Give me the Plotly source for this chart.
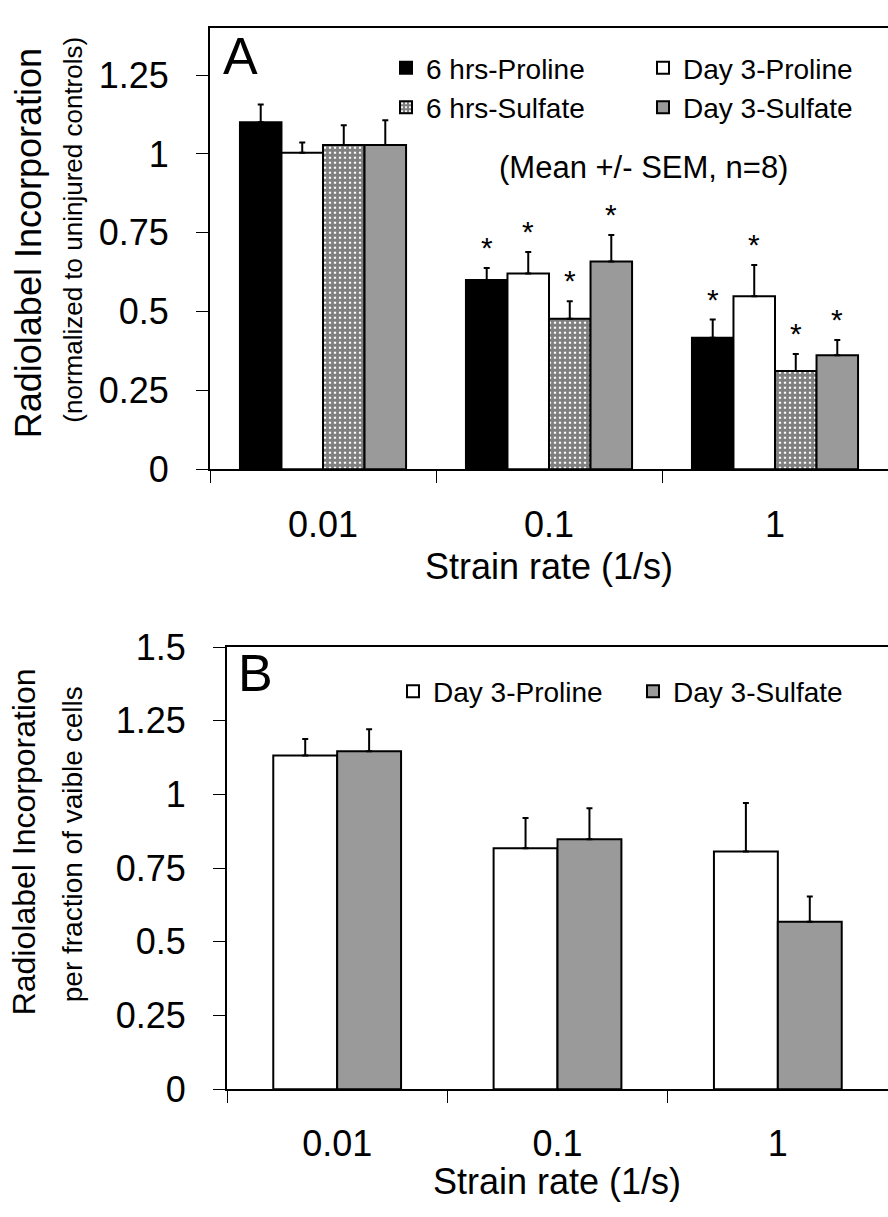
import plotly.graph_objects as go

W, H = 888, 1217
FONT = "Liberation Sans, Arial, Helvetica, sans-serif"

categories = ["0.01", "0.1", "1"]

# Panel A (normalized to uninjured controls), mean and SEM
a_series = ["6 hrs-Proline", "Day 3-Proline", "6 hrs-Sulfate", "Day 3-Sulfate"]
a_6h_proline = [1.100, 0.600, 0.417]
a_6h_proline_sem = [0.057, 0.038, 0.058]
a_d3_proline = [1.004, 0.621, 0.549]
a_d3_proline_sem = [0.032, 0.068, 0.099]
a_6h_sulfate = [1.028, 0.477, 0.312]
a_6h_sulfate_sem = [0.063, 0.056, 0.054]
a_d3_sulfate = [1.028, 0.659, 0.362]
a_d3_sulfate_sem = [0.079, 0.084, 0.048]
a_significant = [False, True, True]  # asterisk over every bar of the group

# Panel B (per fraction of viable cells)
b_series = ["Day 3-Proline", "Day 3-Sulfate"]
b_d3_proline = [1.132, 0.818, 0.807]
b_d3_proline_sem = [0.056, 0.102, 0.164]
b_d3_sulfate = [1.147, 0.848, 0.568]
b_d3_sulfate_sem = [0.074, 0.105, 0.086]

GRAY = "#9a9a9a"
styles = {
    "6 hrs-Proline": dict(color="black"),
    "Day 3-Proline": dict(color="white"),
    "6 hrs-Sulfate": dict(color="white",
                          pattern=dict(shape="+", fgcolor="black", bgcolor="white",
                                       size=5, solidity=0.8)),
    "Day 3-Sulfate": dict(color=GRAY),
}


def px_x(x):
    return x / W


def px_y(y):
    return 1 - y / H


fig = go.Figure()

a_vals = [a_6h_proline, a_d3_proline, a_6h_sulfate, a_d3_sulfate]
a_errs = [a_6h_proline_sem, a_d3_proline_sem, a_6h_sulfate_sem, a_d3_sulfate_sem]
a_w = (1 - 0.265) / len(a_series)
a_legends = ["legend", "legend2", "legend", "legend2"]
for i, (name, vals, errs) in enumerate(zip(a_series, a_vals, a_errs)):
    fig.add_trace(go.Bar(
        x=categories, y=vals, name=name, xaxis="x", yaxis="y",
        width=a_w, offset=-a_w * len(a_series) / 2 + i * a_w,
        marker=dict(line=dict(color="black", width=2), **styles[name]),
        error_y=dict(type="data", array=errs, arrayminus=[0] * len(errs), symmetric=False,
                     color="black", thickness=2, width=3),
        legend=a_legends[i],
    ))

b_vals = [b_d3_proline, b_d3_sulfate]
b_errs = [b_d3_proline_sem, b_d3_sulfate_sem]
b_w = (1 - 0.42) / len(b_series)
b_legends = ["legend3", "legend4"]
for i, (name, vals, errs) in enumerate(zip(b_series, b_vals, b_errs)):
    fig.add_trace(go.Bar(
        x=categories, y=vals, name=name, xaxis="x2", yaxis="y2",
        width=b_w, offset=-b_w * len(b_series) / 2 + i * b_w,
        marker=dict(line=dict(color="black", width=2), **styles[name]),
        error_y=dict(type="data", array=errs, arrayminus=[0] * len(errs), symmetric=False,
                     color="black", thickness=2, width=3),
        legend=b_legends[i],
    ))

annotations = []
# significance asterisks
for gi, sig in enumerate(a_significant):
    if not sig:
        continue
    for i in range(len(a_series)):
        annotations.append(dict(
            x=gi - a_w * len(a_series) / 2 + i * a_w + a_w / 2,
            y=a_vals[i][gi] + a_errs[i][gi], xref="x", yref="y",
            text="*", showarrow=False, yanchor="bottom", yshift=2,
            font=dict(size=30, color="black", family=FONT)))


def txt(text, x, y, size, angle=0):
    annotations.append(dict(text=text, x=px_x(x), y=px_y(y), xref="paper", yref="paper",
                            xanchor="center", yanchor="middle", showarrow=False,
                            textangle=angle, font=dict(size=size, color="black", family=FONT)))


txt("A", 240, 37, 52)
txt("B", 255, 676, 52)
txt("(Mean +/- SEM, n=8)", 643, 153, 31)
txt("Radiolabel Incorporation", 28, 231, 36, -90)
txt("(normalized to uninjured controls)", 73, 217, 26, -90)
txt("Radiolabel Incorporation", 24, 851, 32, -90)
txt("per fraction of vaible cells", 72, 853, 28, -90)
txt("Strain rate (1/s)", 549, 566, 36)
txt("Strain rate (1/s)", 557, 1202, 36)

axis_common = dict(showline=True, linecolor="black", linewidth=2, showgrid=False, zeroline=False,
                   ticks="outside", ticklen=12, tickwidth=1, tickcolor="black",
                   tickfont=dict(size=36, color="black", family=FONT))

leg_common = dict(orientation="v", xanchor="left", yanchor="middle", bgcolor="rgba(0,0,0,0)",
                  font=dict(size=28, color="black", family=FONT), tracegroupgap=0,
                  itemclick=False)

fig.update_layout(
    width=W, height=H, margin=dict(l=0, r=0, t=0, b=0),
    paper_bgcolor="white", plot_bgcolor="white",
    barmode="overlay",
    xaxis=dict(domain=[px_x(210), 1], anchor="y", type="category", mirror=True,
               tickson="boundaries", ticklabelstandoff=22, **axis_common),
    yaxis=dict(domain=[px_y(465), px_y(8)], anchor="x", range=[0, 1.4], dtick=0.25,
               ticklabelstandoff=20, **axis_common),
    xaxis2=dict(domain=[px_x(227), 1], anchor="y2", type="category", mirror=True,
                tickson="boundaries", ticklabelstandoff=22, **axis_common),
    yaxis2=dict(domain=[px_y(1106.5), px_y(649)], anchor="x2", range=[0, 1.5], dtick=0.25,
                ticklabelstandoff=20, **axis_common),
    legend=dict(x=px_x(386), y=px_y(70), **leg_common),
    legend2=dict(x=px_x(643), y=px_y(70), **leg_common),
    legend3=dict(x=px_x(393), y=px_y(695), **leg_common),
    legend4=dict(x=px_x(633), y=px_y(695), **leg_common),
    annotations=annotations,
    showlegend=True,
)

fig.write_html("out.html")
